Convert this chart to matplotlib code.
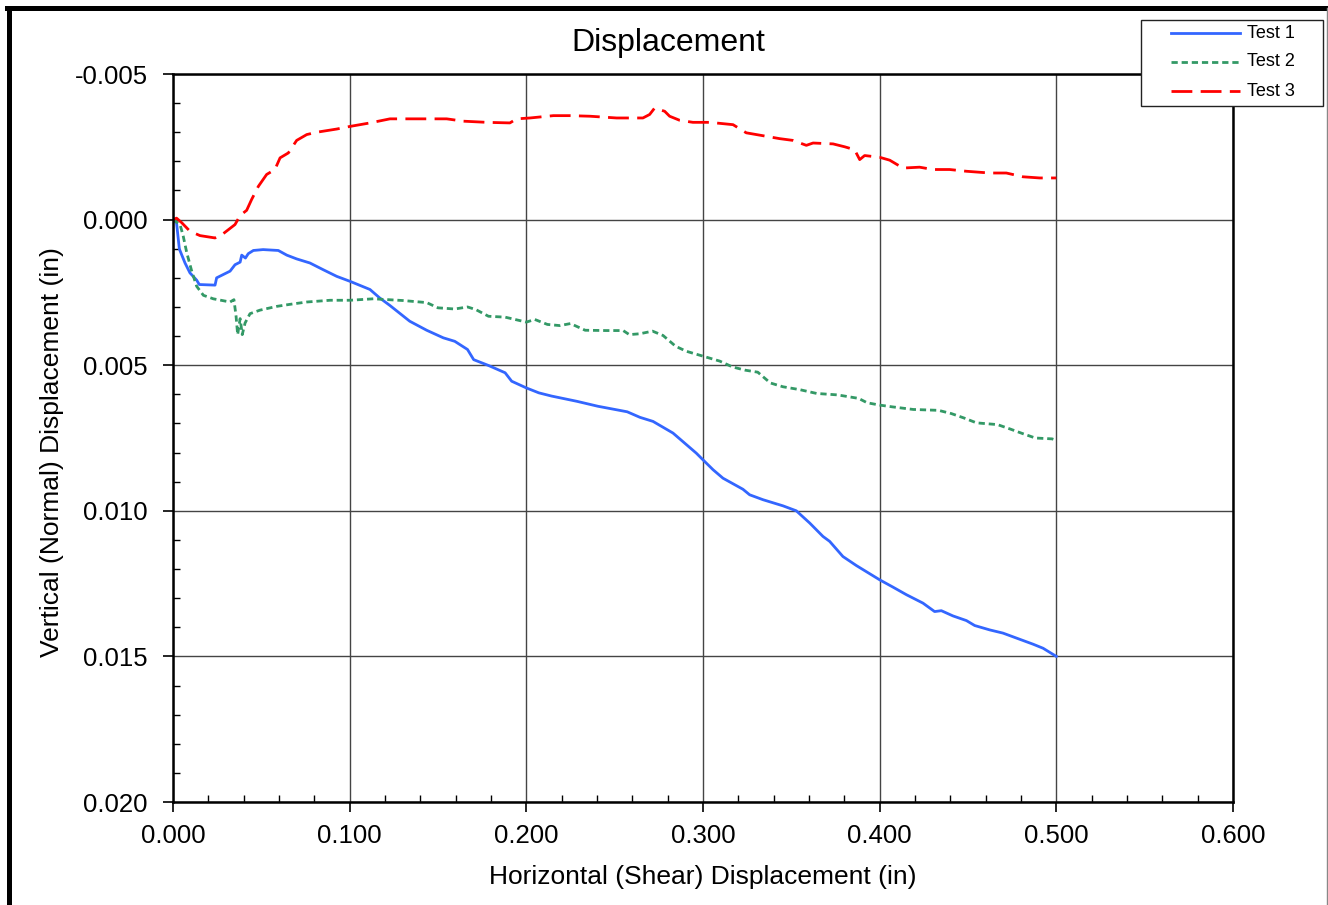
import matplotlib
matplotlib.use("Agg")
import matplotlib.pyplot as plt
from matplotlib.ticker import MultipleLocator, FormatStrFormatter
from matplotlib.lines import Line2D
from matplotlib.patches import Rectangle

plt.rcParams['font.family'] = ['Liberation Sans', 'DejaVu Sans']
plt.rcParams['axes.unicode_minus'] = False
plt.rcParams['lines.scale_dashes'] = False

# Test 1 (x in, y in thousandths of an inch)
x1 = [0.000, 0.002, 0.0036, 0.0068, 0.0096, 0.0134, 0.0149, 0.0238, 0.0247, 0.0323,
      0.0351, 0.038, 0.0389, 0.041, 0.0426, 0.0455, 0.051, 0.0596, 0.0644, 0.070,
      0.0775, 0.085, 0.0927, 0.1002, 0.1115, 0.117, 0.1228, 0.134, 0.1436, 0.153,
      0.1595, 0.1667, 0.1702, 0.1786, 0.188, 0.1917, 0.200, 0.2071, 0.2143, 0.2286,
      0.2405, 0.2571, 0.2643, 0.2717, 0.283, 0.2962, 0.300, 0.3057, 0.3113, 0.3226,
      0.3264, 0.334, 0.3453, 0.3528, 0.3604, 0.3679, 0.3717, 0.3792, 0.3868, 0.400,
      0.4075, 0.4151, 0.4245, 0.4311, 0.4349, 0.4415, 0.4491, 0.4538, 0.4623, 0.4698,
      0.4774, 0.4868, 0.4925, 0.500]
y1 = [0.0, 0.11, 1.01, 1.49, 1.83, 2.08, 2.23, 2.25, 2.00, 1.77,
      1.55, 1.46, 1.22, 1.32, 1.17, 1.06, 1.03, 1.06, 1.22, 1.35,
      1.49, 1.72, 1.95, 2.12, 2.40, 2.69, 2.95, 3.49, 3.80, 4.06,
      4.18, 4.46, 4.81, 5.01, 5.26, 5.55, 5.78, 5.95, 6.06, 6.24,
      6.41, 6.60, 6.79, 6.93, 7.33, 8.02, 8.25, 8.59, 8.88, 9.26,
      9.45, 9.62, 9.83, 10.00, 10.42, 10.88, 11.05, 11.57, 11.88, 12.37,
      12.62, 12.88, 13.17, 13.46, 13.43, 13.61, 13.77, 13.94, 14.09, 14.20,
      14.37, 14.58, 14.72, 15.00]

# Test 2
x2 = [0.000, 0.004, 0.0058, 0.0078, 0.0106, 0.0134, 0.0172, 0.0228, 0.0323, 0.0345,
      0.0357, 0.0366, 0.038, 0.0392, 0.0408, 0.0436, 0.0492, 0.0587, 0.0662, 0.0757,
      0.0889, 0.1002, 0.1134, 0.1304, 0.1436, 0.150, 0.1595, 0.1667, 0.1714, 0.1786,
      0.188, 0.200, 0.2048, 0.2119, 0.219, 0.225, 0.2333, 0.2452, 0.2548, 0.2583,
      0.2643, 0.2714, 0.2774, 0.2845, 0.2905, 0.300, 0.3095, 0.3167, 0.3238, 0.331,
      0.3381, 0.3452, 0.3548, 0.3643, 0.3762, 0.3881, 0.3929, 0.400, 0.4071, 0.419,
      0.4333, 0.4405, 0.4476, 0.4548, 0.4667, 0.4738, 0.481, 0.4881, 0.4976, 0.500]
y2 = [0.0, 0.17, 0.57, 1.14, 1.77, 2.29, 2.60, 2.72, 2.83, 2.75,
      3.32, 3.95, 3.40, 3.95, 3.55, 3.23, 3.11, 2.98, 2.91, 2.83,
      2.77, 2.77, 2.72, 2.78, 2.85, 3.03, 3.07, 3.00, 3.09, 3.32,
      3.35, 3.52, 3.43, 3.60, 3.64, 3.57, 3.80, 3.81, 3.81, 3.95,
      3.92, 3.83, 3.98, 4.35, 4.52, 4.69, 4.86, 5.06, 5.17, 5.24,
      5.61, 5.74, 5.84, 5.97, 6.02, 6.14, 6.29, 6.37, 6.43, 6.52,
      6.55, 6.66, 6.81, 6.98, 7.04, 7.19, 7.35, 7.50, 7.53, 7.58]

# Test 3
x3 = [0.000, 0.002, 0.005, 0.0096, 0.0153, 0.0238, 0.0285, 0.0351, 0.038, 0.0417,
      0.0445, 0.0483, 0.053, 0.0577, 0.0606, 0.0653, 0.070, 0.0757, 0.0813, 0.0927,
      0.1002, 0.1115, 0.1228, 0.1417, 0.1549, 0.1643, 0.1776, 0.1907, 0.1945, 0.2021,
      0.2153, 0.2247, 0.236, 0.2511, 0.266, 0.2698, 0.2726, 0.2783, 0.2811, 0.2868,
      0.2943, 0.3038, 0.317, 0.3245, 0.334, 0.3434, 0.3509, 0.3585, 0.3623, 0.3736,
      0.3802, 0.3858, 0.3887, 0.3915, 0.400, 0.4057, 0.4132, 0.4226, 0.4302, 0.4396,
      0.4491, 0.4623, 0.4717, 0.4811, 0.4906, 0.500]
y3 = [0.0, -0.05, 0.11, 0.40, 0.55, 0.63, 0.48, 0.17, -0.14, -0.32,
      -0.69, -1.14, -1.55, -1.72, -2.12, -2.29, -2.72, -2.92, -3.00, -3.11,
      -3.20, -3.32, -3.46, -3.46, -3.46, -3.38, -3.34, -3.32, -3.46, -3.49,
      -3.57, -3.57, -3.55, -3.49, -3.49, -3.61, -3.83, -3.72, -3.55, -3.41,
      -3.34, -3.34, -3.26, -2.98, -2.88, -2.78, -2.72, -2.55, -2.63, -2.60,
      -2.50, -2.40, -2.06, -2.20, -2.14, -2.04, -1.77, -1.80, -1.72, -1.72,
      -1.66, -1.60, -1.60, -1.47, -1.43, -1.43]

labels = ['Test 1', 'Test 2', 'Test 3']

W, H = 1328, 905
fig = plt.figure(figsize=(W / 100, H / 100), dpi=100)
ax = fig.add_axes([173/W, 1 - 802/H, 1060/W, 728/H])

ax.plot(x1, [v / 1000 for v in y1], color='#3366FF', lw=2.0, label=labels[0])
ax.plot(x2, [v / 1000 for v in y2], color='#339966', lw=2.0, dashes=(4.5, 2.8), label=labels[1])
ax.plot(x3, [v / 1000 for v in y3], color='#FF0000', lw=2.0, dashes=(15, 6), label=labels[2])

ax.set_xlim(0, 0.6)
ax.set_ylim(0.020, -0.005)
ax.xaxis.set_major_locator(MultipleLocator(0.1))
ax.xaxis.set_minor_locator(MultipleLocator(0.02))
ax.yaxis.set_major_locator(MultipleLocator(0.005))
ax.yaxis.set_minor_locator(MultipleLocator(0.001))
ax.xaxis.set_major_formatter(FormatStrFormatter('%.3f'))
ax.yaxis.set_major_formatter(FormatStrFormatter('%.3f'))
ax.grid(True, which='major', color='#444444', lw=1.0)
ax.tick_params(which='major', direction='out', length=7, width=1.2, labelsize=18.5)
ax.tick_params(axis='x', which='major', pad=9)
ax.tick_params(axis='y', which='major', pad=11)
ax.tick_params(which='minor', direction='in', length=5, width=1.0)
for s in ax.spines.values():
    s.set_linewidth(1.8)

fig.text(0.503, 1 - 43/H, 'Displacement', ha='center', va='center', fontsize=23)
ax.set_xlabel('Horizontal (Shear) Displacement (in)', fontsize=19, labelpad=12)
ax.set_ylabel('Vertical (Normal) Displacement (in)', fontsize=19)
ax.yaxis.set_label_coords(-0.103, 0.481)

# legend box drawn in figure pixels, styles copied from the plotted lines
fig.add_artist(Rectangle((1141/W, 1 - 106/H), 182/W, 86/H, transform=fig.transFigure,
                         facecolor='white', edgecolor='#222222', lw=1.0, zorder=5))
for i, (line, lab) in enumerate(zip(ax.get_lines(), labels)):
    yy = 1 - (33 + 29 * i) / H
    h = Line2D([1171/W, 1240/W], [yy, yy])
    h.update_from(line)
    h.set_transform(fig.transFigure)
    h.set_clip_on(False)
    h.set_zorder(6)
    fig.add_artist(h)
    fig.text(1247/W, yy, lab, ha='left', va='center', fontsize=13, zorder=6)

# outer frame of the sheet
fig.add_artist(Line2D([9/W, 9/W], [0, 1 - 8/H], transform=fig.transFigure, color='black', lw=3.6))
fig.add_artist(Line2D([7/W, 1], [1 - 8/H, 1 - 8/H], transform=fig.transFigure, color='black', lw=3.6))
fig.add_artist(Line2D([1326.5/W, 1326.5/W], [0, 1 - 8/H], transform=fig.transFigure, color='#888888', lw=1.0))

fig.savefig('out.png', dpi=100)
